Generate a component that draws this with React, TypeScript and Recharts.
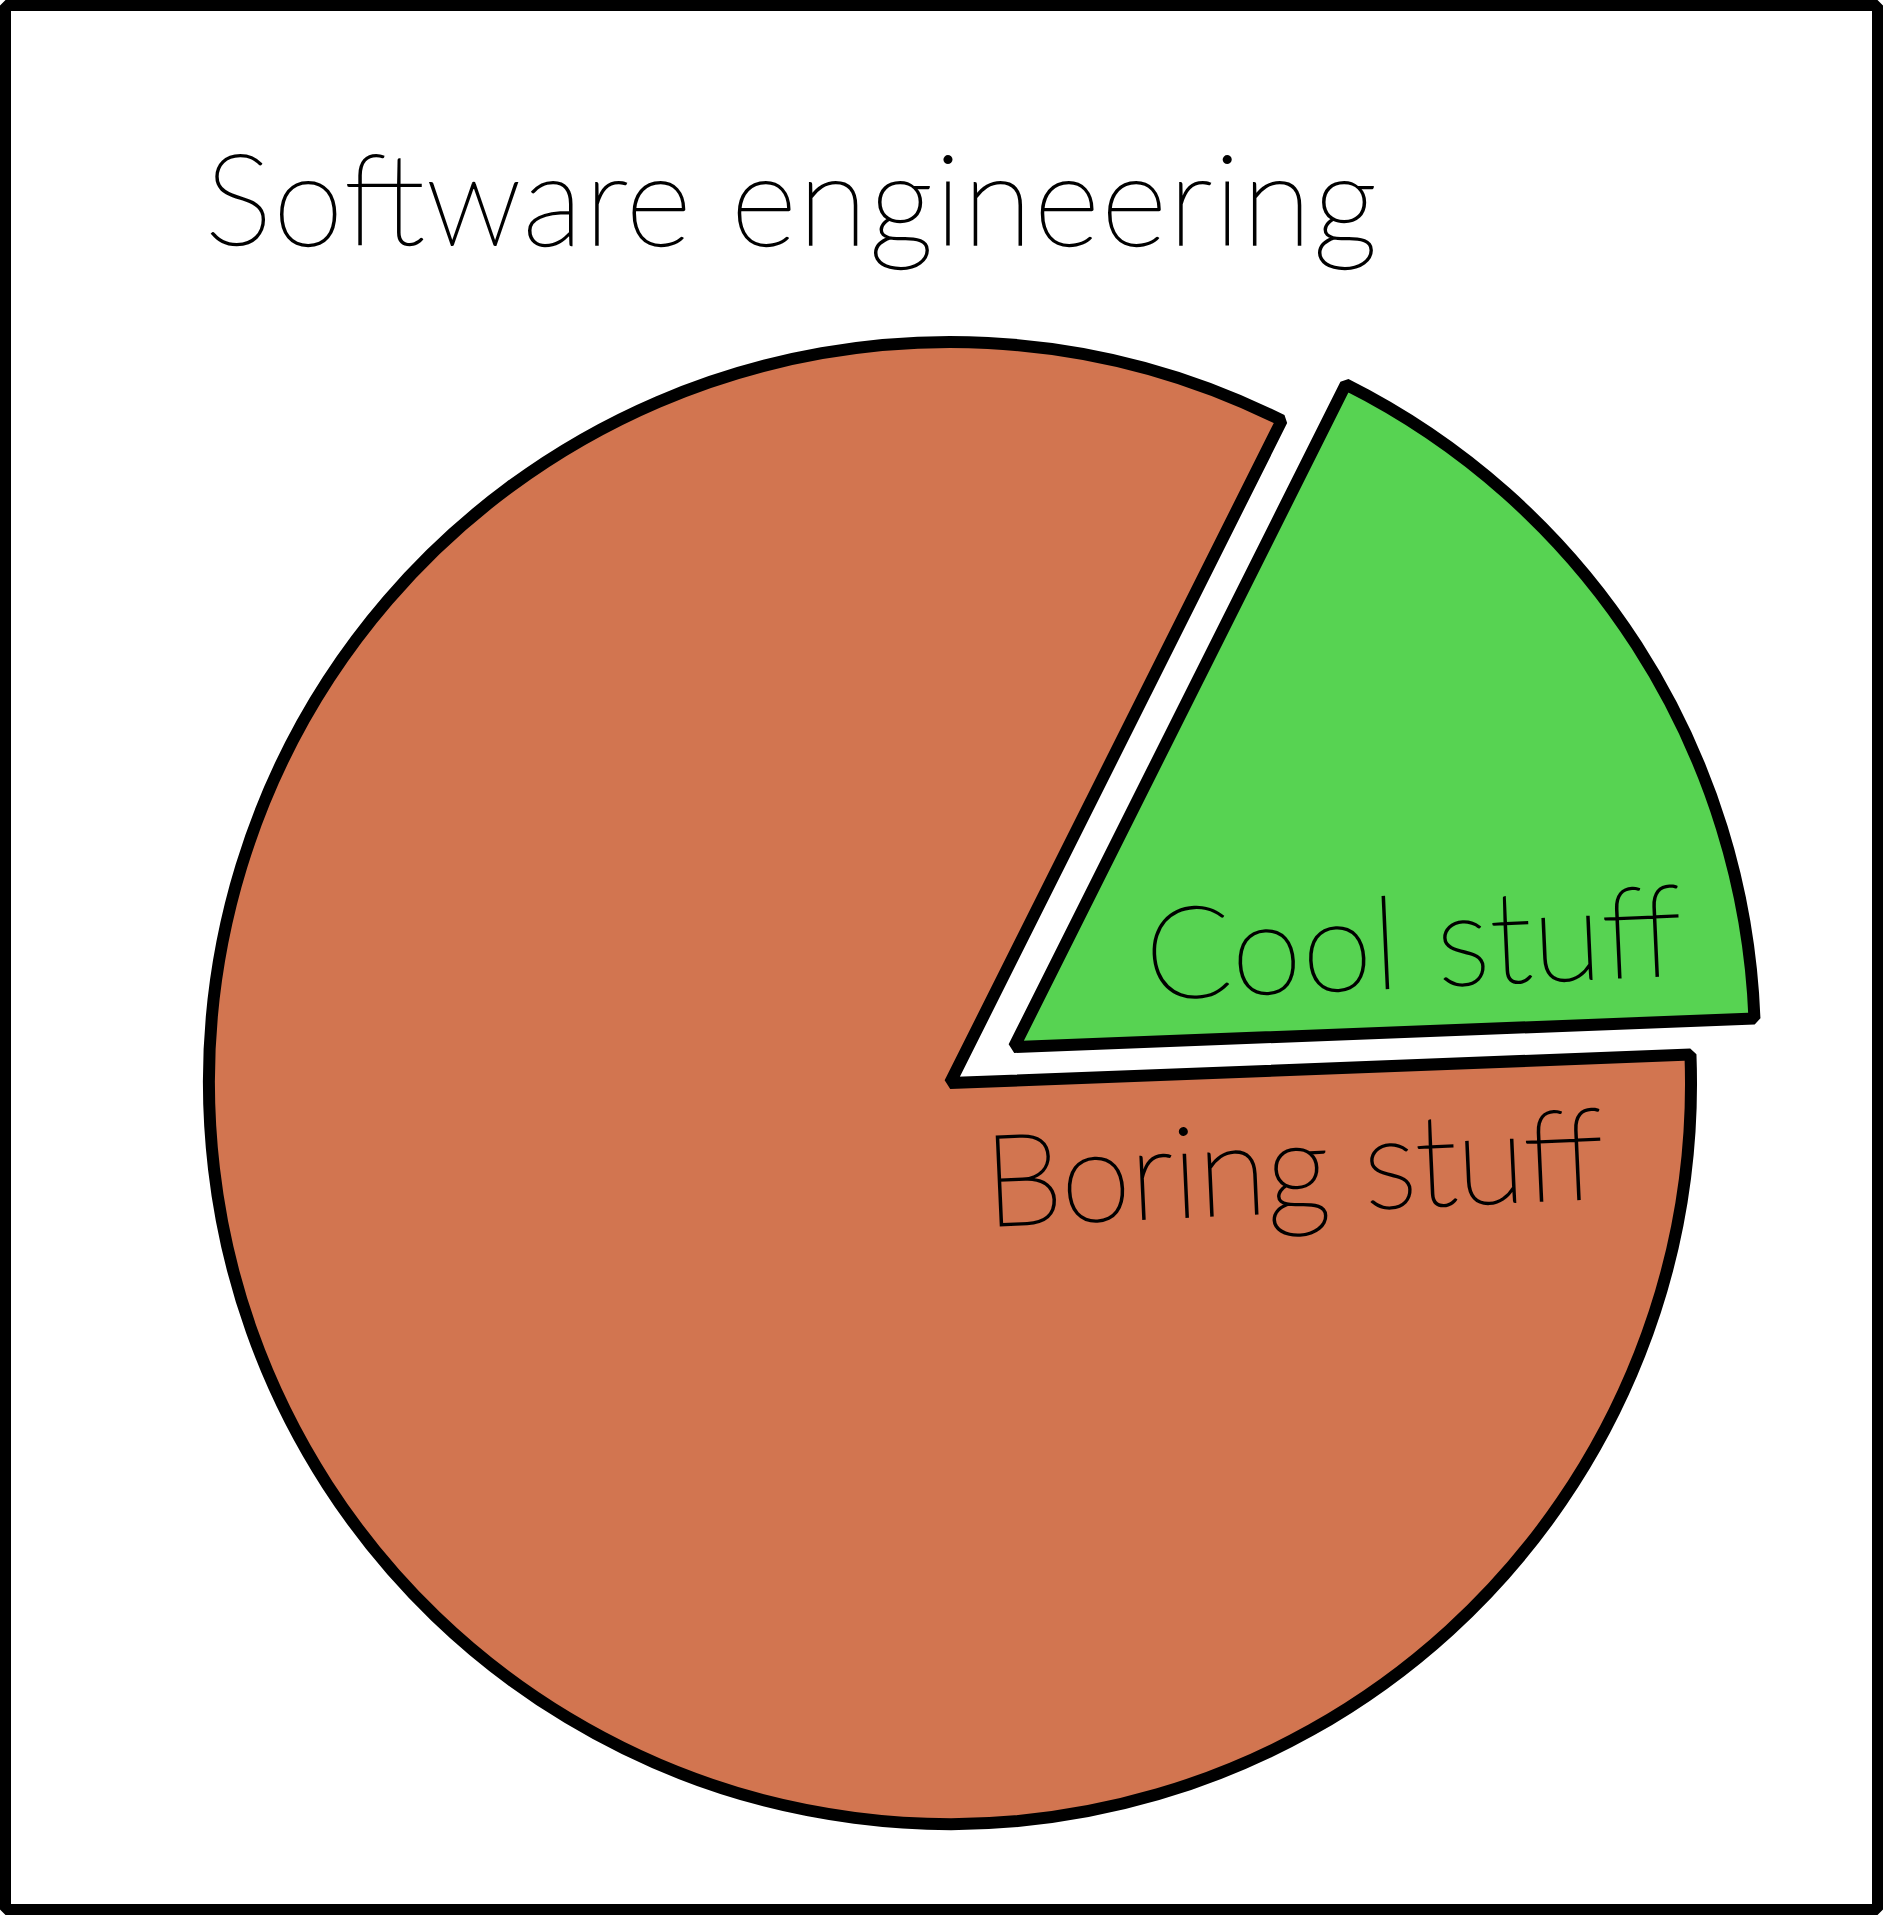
import React from "react";
import { PieChart, Pie, Cell } from "recharts";

const categories = ["Cool stuff", "Boring stuff"];
const values = [17, 83];
const colors = ["#57D352", "#D27550"];
const title = "Software engineering";

const data = categories.map((name, i) => ({ name, value: values[i] }));

const W = 1883;
const H = 1915;
const CX = 950;
const CY = 1083;
const R = 741;
const EXPLODE_DX = 64;
const EXPLODE_DY = -36;
const FONT = "Lato, 'DejaVu Sans', sans-serif";
const FS = 127;
const FW = 200;
const TEXT_STROKE = 2;

const labelSpecs: Record<number, { dx: number; dy: number; len: number }> = {
  0: { dx: 133, dy: -48, len: 537 },
  1: { dx: 36, dy: 143, len: 620 },
};

const makeLabel = (only: number) => (props: any) => {
  if (props.index !== only) return null;
  const s = labelSpecs[only];
  const x = props.cx + s.dx;
  const y = props.cy + s.dy;
  return (
    <text
      x={x}
      y={y}
      fontFamily={FONT}
      fontWeight={FW}
      fontSize={FS}
      fill="#000"
      stroke="#000"
      strokeWidth={TEXT_STROKE}
      textLength={s.len}
      lengthAdjust="spacing"
      transform={`rotate(-2.6 ${x} ${y})`}
    >
      {categories[only]}
    </text>
  );
};

export default function App() {
  return (
    <div style={{ position: "absolute", left: 0, top: 0, width: W, height: H, background: "#fff" }}>
      <PieChart width={W} height={H} margin={{ top: 0, right: 0, bottom: 0, left: 0 }}>
        <rect x={5.5} y={5.5} width={W - 11} height={H - 11} fill="none" stroke="#000" strokeWidth={11} strokeLinejoin="bevel" />
        <text
          x={205}
          y={245}
          fontFamily={FONT}
          fontWeight={FW}
          fontSize={FS}
          fill="#000"
          stroke="#000"
          strokeWidth={TEXT_STROKE}
          textLength={1172}
          lengthAdjust="spacing"
        >
          {title}
        </text>
        <Pie
          data={data}
          dataKey="value"
          nameKey="name"
          cx={CX}
          cy={CY}
          outerRadius={R}
          innerRadius={0}
          startAngle={2.2}
          endAngle={362.2}
          isAnimationActive={false}
          label={makeLabel(1)}
          labelLine={false}
        >
          {data.map((d, i) => (
            <Cell
              key={d.name}
              fill={i === 1 ? colors[1] : "none"}
              stroke={i === 1 ? "#000" : "none"}
              strokeWidth={12}
              strokeLinejoin="bevel"
            />
          ))}
        </Pie>
        <Pie
          data={data}
          dataKey="value"
          nameKey="name"
          cx={CX + EXPLODE_DX}
          cy={CY + EXPLODE_DY}
          outerRadius={R}
          innerRadius={0}
          startAngle={2.2}
          endAngle={362.2}
          isAnimationActive={false}
          label={makeLabel(0)}
          labelLine={false}
        >
          {data.map((d, i) => (
            <Cell
              key={d.name}
              fill={i === 0 ? colors[0] : "none"}
              stroke={i === 0 ? "#000" : "none"}
              strokeWidth={12}
              strokeLinejoin="bevel"
            />
          ))}
        </Pie>
      </PieChart>
    </div>
  );
}
